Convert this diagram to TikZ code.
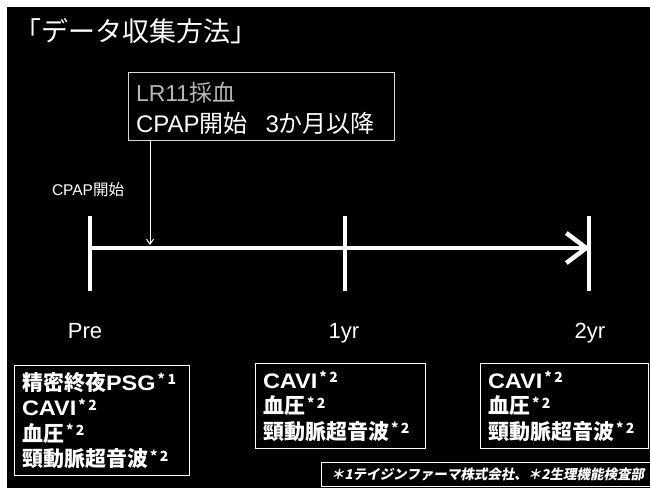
\documentclass[tikz,border=0pt]{standalone}
\usepackage{fontspec}
\setmainfont{Liberation Sans}
\newfontfamily\jp{Noto Sans CJK JP}
\newfontfamily\jpit[FakeSlant=0.2]{Noto Sans CJK JP}
\newfontfamily\latw[FakeStretch=1.12]{Liberation Sans}
\usetikzlibrary{arrows.meta}
\newcommand\fsz[1]{\fontsize{#1}{#1}\selectfont}
\newcommand\snote[1]{{\fsz{14}\bfseries\hspace{2pt}\raisebox{5.5pt}{*\hspace{2.5pt}#1}}}
\newcommand\bl[1]{{\latw\bfseries #1}}
\tikzset{
  txt/.style={text=white, inner sep=0pt, outer sep=0pt, anchor=base west},
  boxframe/.style={draw=white, line width=1pt, inner sep=0pt, outer sep=0pt, anchor=north west},
  tickline/.style={draw=white, line width=4.5pt},
  timeline/.style={draw=white, line width=4.5pt, -{Straight Barb[length=20pt,width=30pt,line width=4.5pt]}},
  pointer/.style={draw=white, line width=1pt, -{Straight Barb[length=5pt,width=7pt]}},
  lbl/.style={text=white, inner sep=0pt, anchor=base, font=\fsz{22}},
  itemfont/.style={font=\fsz{21}\jp\bfseries}
}
\begin{document}
\begin{tikzpicture}[x=1pt,y=-1pt]
\useasboundingbox (0,0) rectangle (650,488);
\fill[white] (0,0) rectangle (650,488);
\fill[black] (7,7) rectangle (650,488);

% title
\node[txt, font=\fsz{27}\jp] (title) at (14,41.5) {「データ収集方法」};

% top box
\node[boxframe, draw=white!85!black, minimum width=266pt, minimum height=68pt] (topbox) at (128,72) {};
\node[txt, text=white!72!black, font=\fsz{23}] (lr) at (136,101) {LR11{\jp 採血}};
\node[txt, font=\fsz{24}] (cpap3) at (136,132) {CPAP{\jp 開始}\hspace{18pt}3{\jp か月以降}};

% pointer arrow
\coordinate (ptop) at (150,140);
\coordinate (ptip) at (150,245);
\draw[pointer] (ptop) -- (ptip);

% CPAP start label
\node[txt, font=\fsz{15.5}] (cpapstart) at (52,195) {CPAP{\jp 開始}};

% timeline
\coordinate (pre) at (90,248);
\coordinate (one) at (345,248);
\coordinate (two) at (589,248);
\coordinate (pretop) at (90,216);
\coordinate (prebot) at (90,291);
\coordinate (onetop) at (345,216);
\coordinate (onebot) at (345,291);
\coordinate (twotop) at (589,216);
\coordinate (twobot) at (589,291);
\draw[tickline] (pretop) -- (prebot);
\draw[tickline] (onetop) -- (onebot);
\draw[tickline] (twotop) -- (twobot);
\draw[timeline] (pre) -- ([xshift=1pt]two);

% time labels
\node[lbl] (lpre) at (85,338) {Pre};
\node[lbl] (lone) at (344,338) {1yr};
\node[lbl] (ltwo) at (590,338) {2yr};

% bottom boxes
\node[boxframe, minimum width=175pt, minimum height=110pt] (box1) at (14,365) {};
\node[boxframe, minimum width=170pt, minimum height=85pt] (box2) at (255,363) {};
\node[boxframe, minimum width=168pt, minimum height=85pt] (box3) at (480,363) {};

\node[txt, itemfont] (b1a) at (22,390) {精密終夜\bl{PSG}\snote{1}};
\node[txt, itemfont] (b1b) at (22,415.5) {\bl{CAVI}\snote{2}};
\node[txt, itemfont] (b1c) at (22,441) {血圧\snote{2}};
\node[txt, itemfont] (b1d) at (22,466.5) {頸動脈超音波\snote{2}};

\node[txt, itemfont] (b2a) at (263,388) {\bl{CAVI}\snote{2}};
\node[txt, itemfont] (b2b) at (263,413.5) {血圧\snote{2}};
\node[txt, itemfont] (b2c) at (263,439) {頸動脈超音波\snote{2}};

\node[txt, itemfont] (b3a) at (488,388) {\bl{CAVI}\snote{2}};
\node[txt, itemfont] (b3b) at (488,413.5) {血圧\snote{2}};
\node[txt, itemfont] (b3c) at (488,439) {頸動脈超音波\snote{2}};

% footnote
\node[boxframe, minimum width=330pt, minimum height=24pt] (fnbox) at (321,462) {};
\node[txt, font=\fsz{13.5}\jpit\bfseries] (fn) at (331,479) {＊1テイジンファーマ株式会社、＊2生理機能検査部};
\end{tikzpicture}
\end{document}
